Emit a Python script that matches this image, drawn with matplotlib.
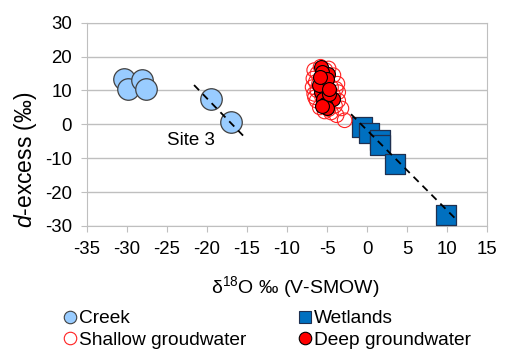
import matplotlib
matplotlib.use("Agg")
import matplotlib.pyplot as plt
from matplotlib.lines import Line2D

# creek samples (site 3 = last two)
creek_x = [-30.3, -29.8, -28.1, -27.6, -19.5, -17.0]
creek_y = [13.3, 10.4, 13.0, 10.4, 7.4, 0.7]

wet_x = [-0.6, 0.3, 1.6, 1.6, 3.5, 9.9]
wet_y = [-0.7, -2.7, -4.5, -6.0, -11.8, -26.8]

shallow_x = [-6.6, -6.7, -6.8, -6.6, -6.3, -5.9, -5.3, -4.5, -3.8, -2.8, -3.2, -3.6,
             -3.6, -3.7, -4.2, -4.8, -5.8, -6.2, -6.0, -5.5, -4.5, -4.2, -5.0, -6.2,
             -5.6, -4.0, -6.4, -5.2, -3.9, -4.8, -6.5, -5.7]
shallow_y = [16.0, 13.5, 11.0, 9.0, 7.0, 5.0, 3.8, 3.5, 2.7, 1.2, 4.7, 7.0,
             9.5, 12.0, 14.5, 16.5, 17.0, 15.0, 12.0, 14.0, 11.0, 8.5, 6.0, 10.0,
             8.0, 5.5, 12.5, 16.0, 10.5, 4.5, 8.0, 10.5]

deep_x = [-5.7, -4.9, -5.3, -4.25, -5.6, -5.8, -5.5, -5.2, -5.0, -5.6, -4.8, -6.0,
          -5.0, -5.9, -4.7]
deep_y = [17.0, 15.0, 12.1, 7.6, 15.5, 9.5, 7.5, 6.0, 4.8, 5.5, 9.0, 11.5,
          13.5, 14.0, 10.5]

# trend lines
site3_line_x = [-21.6, -15.2]
site3_line_y = [11.6, -4.0]
wet_line_x = [-2.0, 11.1]
wet_line_y = [3.0, -28.0]

xticks = list(range(-35, 16, 5))
yticks = list(range(-30, 31, 10))

plt.rcParams['font.family'] = ['Liberation Sans', 'DejaVu Sans']
plt.rcParams['axes.unicode_minus'] = False
plt.rcParams['mathtext.fontset'] = 'custom'
plt.rcParams['mathtext.rm'] = 'Liberation Sans'
plt.rcParams['mathtext.it'] = 'Liberation Sans:italic'

W, H = 506, 351
fig = plt.figure(figsize=(W / 100, H / 100), dpi=100)
ax = fig.add_axes([86.7 / W, 1 - 226 / H, 400.5 / W, 203.3 / H])

grid_col = '#bfbfbf'
ax.set_xlim(-35, 15)
ax.set_ylim(-30, 30)
ax.set_xticks(xticks)
ax.set_yticks(yticks)
ax.yaxis.grid(True, color=grid_col, linewidth=1)
ax.set_axisbelow(True)
for s in ax.spines.values():
    s.set_color(grid_col)
ax.tick_params(colors=grid_col, labelcolor='black', labelsize=13.4, length=4.5, pad=6)

ax.plot(site3_line_x, site3_line_y, 'k--', lw=1.3, dashes=(4, 3), zorder=5)
ax.plot(wet_line_x, wet_line_y, 'k--', lw=1.3, dashes=(4, 3), zorder=5)

ax.scatter(creek_x, creek_y, s=15.5**2, c='#99ccff', edgecolors='#404040',
           linewidths=0.9, zorder=3)
ax.scatter(wet_x, wet_y, s=15**2, marker='s', c='#0070c0', edgecolors='#1f3050',
           linewidths=0.9, zorder=3)
ax.scatter(shallow_x, shallow_y, s=10.5**2, facecolors='none', edgecolors='#ff2020',
           linewidths=0.8, zorder=4)
ax.scatter(deep_x, deep_y, s=10**2, c='#ff0000', edgecolors='black',
           linewidths=0.8, zorder=4)

ax.text(-25, -4.7, 'Site 3', fontsize=13.5, va='center', ha='left')

fig.text(295 / W, 1 - 287 / H, 'δ$^{18}$O ‰ (V-SMOW)', fontsize=14,
         ha='center', va='center')
fig.text(26 / W, 1 - 160 / H, '$d$-excess (‰)', fontsize=16.5, rotation=90,
         ha='center', va='center')

handles = [
    Line2D([], [], marker='o', ls='none', ms=9, mfc='#99ccff', mec='#404040', mew=0.8),
    Line2D([], [], marker='o', ls='none', ms=9, mfc='none', mec='#ff2020', mew=0.8),
    Line2D([], [], marker='s', ls='none', ms=9, mfc='#0070c0', mec='#1f3050', mew=0.8),
    Line2D([], [], marker='o', ls='none', ms=9, mfc='#ff0000', mec='black', mew=0.8),
]
labels = ['Creek', 'Shallow groudwater', 'Wetlands', 'Deep groundwater']
fig.legend(handles, labels, ncol=2, frameon=False, fontsize=13.8,
           loc='upper left', bbox_to_anchor=(63 / W, 1 - 310 / H),
           handletextpad=0.15, handlelength=0.7, columnspacing=2.67,
           labelspacing=0.2, borderaxespad=0, borderpad=0)

fig.savefig('out.png', dpi=100)
